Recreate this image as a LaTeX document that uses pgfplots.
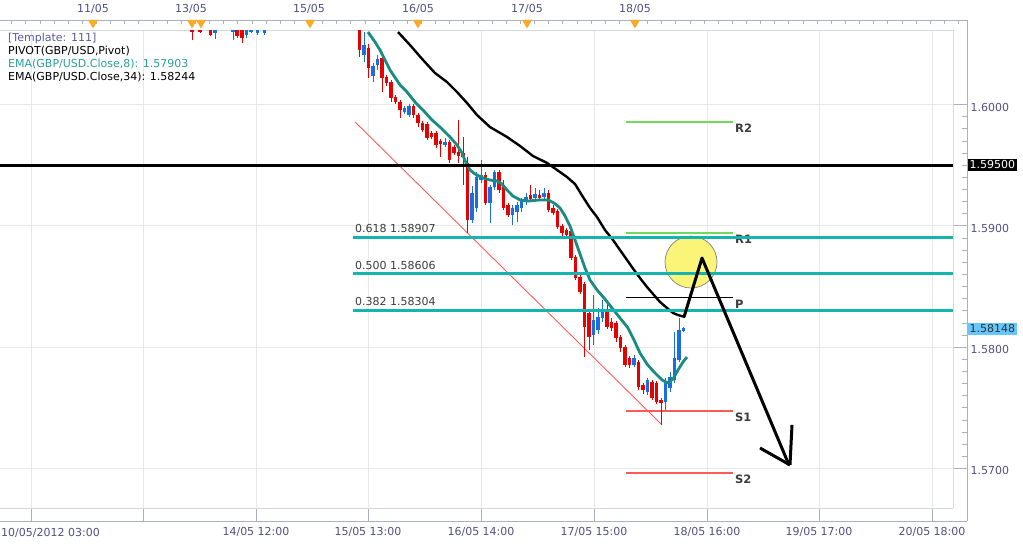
\documentclass[border=0pt]{standalone}
\usepackage{pgfplots}
\pgfplotsset{compat=1.18}
\usepackage{pgfplotstable}
\usepackage{fontspec}
\setmainfont{DejaVu Sans}
\definecolor{cred}{RGB}{230,0,0}
\definecolor{cblue}{RGB}{25,110,225}
\definecolor{ema8}{RGB}{25,140,130}
\definecolor{fib}{RGB}{20,180,175}
\definecolor{framec}{RGB}{170,178,192}
\definecolor{innerc}{RGB}{212,216,224}
\definecolor{gridc}{RGB}{232,232,232}
\definecolor{labc}{RGB}{80,80,130}
\definecolor{tmplc}{RGB}{90,90,160}
\definecolor{pivgreen}{RGB}{110,220,90}
\definecolor{pivred}{RGB}{255,90,90}
\definecolor{trendred}{RGB}{255,90,90}
\definecolor{orangec}{RGB}{248,170,40}
\definecolor{circfill}{RGB}{250,245,120}
\definecolor{curblue}{RGB}{100,200,255}
\definecolor{ema8txt}{RGB}{40,160,155}
\definecolor{txtgray}{RGB}{60,60,60}
\newcommand\f{\fontsize{11}{13}\selectfont}
\newcommand\fb{\fontsize{11.5}{13}\selectfont\bfseries}

\pgfplotstableread{
x o h l c
192 1.60615 1.60615 1.60533 1.60598
200 1.60615 1.60615 1.60590 1.60598
210.5 1.60615 1.60615 1.60566 1.60574
237 1.60615 1.60615 1.60549 1.60566
242 1.60615 1.60615 1.60508 1.60549
359.5 1.60615 1.60615 1.60392 1.60450
368.5 1.60467 1.60500 1.60219 1.60302
382 1.60384 1.60401 1.60104 1.60219
386.5 1.60228 1.60244 1.60153 1.60178
391 1.60186 1.60203 1.60021 1.60054
395.5 1.60063 1.60079 1.60005 1.60021
400 1.60021 1.60038 1.59890 1.59955
413.5 1.59988 1.60005 1.59890 1.59914
418 1.59914 1.59931 1.59815 1.59848
422.5 1.59848 1.59865 1.59774 1.59791
427 1.59840 1.59857 1.59708 1.59725
431.5 1.59766 1.59782 1.59716 1.59733
436 1.59766 1.59782 1.59642 1.59667
440.5 1.59700 1.59716 1.59568 1.59675
449.5 1.59692 1.59708 1.59519 1.59543
454 1.59650 1.59667 1.59584 1.59601
458.5 1.59609 1.59873 1.59519 1.59576
463 1.59601 1.59733 1.59337 1.59568
467.5 1.59519 1.59568 1.58941 1.59049
485.5 1.59420 1.59444 1.59172 1.59189
499 1.59444 1.59461 1.59271 1.59296
503.5 1.59337 1.59378 1.59131 1.59148
508 1.59172 1.59189 1.59073 1.59090
530.5 1.59255 1.59337 1.59205 1.59222
539.5 1.59255 1.59296 1.59214 1.59230
548.5 1.59271 1.59296 1.59115 1.59131
553 1.59148 1.59172 1.59090 1.59106
557.5 1.59123 1.59139 1.58974 1.58991
562 1.58999 1.59016 1.58900 1.58941
566.5 1.58966 1.58983 1.58900 1.58925
571 1.58958 1.58974 1.58719 1.58735
575.5 1.58744 1.58760 1.58554 1.58570
580 1.58579 1.58595 1.58439 1.58455
584.5 1.58521 1.58538 1.57919 1.58167
589 1.58282 1.58307 1.57977 1.58084
607 1.58290 1.58389 1.58150 1.58167
611.5 1.58208 1.58241 1.58134 1.58158
616 1.58199 1.58216 1.58043 1.58076
620.5 1.58084 1.58101 1.57960 1.57993
625 1.58002 1.58018 1.57837 1.57853
629.5 1.57911 1.57927 1.57829 1.57853
638.5 1.57878 1.57894 1.57647 1.57672
643 1.57688 1.57705 1.57614 1.57647
652 1.57713 1.57730 1.57565 1.57581
656.5 1.57705 1.57721 1.57532 1.57548
661 1.57565 1.57581 1.57359 1.57540
}\redc

\pgfplotstableread{
x o h l c
215 1.60590 1.60615 1.60541 1.60615
233 1.60598 1.60615 1.60533 1.60615
246.5 1.60574 1.60615 1.60549 1.60615
251 1.60598 1.60615 1.60590 1.60615
257.5 1.60590 1.60615 1.60574 1.60615
264.5 1.60590 1.60615 1.60574 1.60615
364 1.60409 1.60598 1.60351 1.60491
373 1.60236 1.60343 1.60186 1.60318
377.5 1.60326 1.60409 1.60285 1.60376
404.5 1.59939 1.59988 1.59922 1.59972
409 1.59914 1.60005 1.59898 1.59988
445 1.59667 1.59725 1.59650 1.59692
472 1.59049 1.59329 1.59024 1.59271
476.5 1.59148 1.59444 1.59115 1.59403
481 1.59378 1.59543 1.59354 1.59420
490 1.59189 1.59337 1.59024 1.59321
494.5 1.59321 1.59461 1.59296 1.59444
512.5 1.59090 1.59172 1.59007 1.59148
517 1.59115 1.59197 1.59032 1.59172
521.5 1.59148 1.59230 1.59115 1.59214
526 1.59197 1.59271 1.59172 1.59238
535 1.59230 1.59312 1.59214 1.59263
544 1.59238 1.59312 1.59222 1.59271
593.5 1.58101 1.58430 1.58018 1.58224
598 1.58142 1.58323 1.58109 1.58249
602.5 1.58241 1.58389 1.58208 1.58290
634 1.57853 1.57936 1.57837 1.57911
647.5 1.57631 1.57746 1.57606 1.57730
665.5 1.57548 1.57746 1.57482 1.57705
670 1.57664 1.57796 1.57631 1.57754
674.5 1.57730 1.58125 1.57705 1.57911
679 1.57894 1.58241 1.57878 1.58142
683.5 1.58134 1.58167 1.58125 1.58158
}\bluec

\begin{document}
\begin{tikzpicture}[x=1pt,y=1pt]
\useasboundingbox (0,0) rectangle (1023,545);
% outer frame with ticks and labels
\begin{axis}[at={(0pt,24pt)}, anchor=south west, scale only axis,
  width=967pt, height=501pt,
  xmin=0, xmax=967, ymin=1.565672, ymax=1.606974,
  axis x line*=box, axis y line*=right,
  axis line style={-, draw=framec, line width=0.8pt},
  tick align=inside,
  xtick={31,143,256,368,481,594,707,819,932},
  xticklabels={{},{},{14/05 12:00},{15/05 13:00},{16/05 14:00},{17/05 15:00},{18/05 16:00},{19/05 17:00},{20/05 18:00}},
  minor x tick num=7,
  xtick pos=bottom,
  ytick={1.57,1.58,1.59,1.60},
  yticklabels={1.5700,1.5800,1.5900,1.6000},
  minor y tick num=9,
  ytick pos=right, yticklabel pos=right,
  major tick length=13.5pt, minor tick length=5pt,
  tick style={draw=framec, line width=0.8pt},
  xticklabel style={font=\f, text=labc, yshift=-3pt},
  yticklabel style={font=\f, text=labc, yshift=-2.5pt},
]
\end{axis}
% inner plot area
\begin{axis}[at={(0pt,37pt)}, anchor=south west, scale only axis,
  width=953pt, height=478pt,
  xmin=0, xmax=953, ymin=1.566743, ymax=1.606150,
  clip=false,
  axis x line*=box, axis y line*=right,
  axis line style={-, draw=innerc, line width=0.8pt},
  xtick={31,143,256,368,481,594,707,819,932},
  ytick={1.57,1.58,1.59,1.60},
  xticklabels={}, yticklabels={},
  major tick length=0pt,
  tick style={draw=none},
  grid=major, grid style={draw=gridc, line width=0.9pt},
]
% pivot lines
\addplot[pivgreen, line width=1.2pt, forget plot] coordinates {(626,1.59857) (733,1.59857)};
\addplot[pivgreen, line width=1.2pt, forget plot] coordinates {(626,1.58941) (733,1.58941)};
\addplot[black, line width=1pt, forget plot] coordinates {(626,1.58406) (733,1.58406)};
\addplot[pivred, line width=1.2pt, forget plot] coordinates {(626,1.57474) (733,1.57474)};
\addplot[pivred, line width=1.2pt, forget plot] coordinates {(626,1.56963) (733,1.56963)};
\node[anchor=north west, inner sep=0pt, font=\fb, text=txtgray] at (axis cs:735,1.59857) [yshift=-1.5pt] {R2};
\node[anchor=north west, inner sep=0pt, font=\fb, text=txtgray] at (axis cs:735,1.58941) [yshift=-1.5pt] {R1};
\node[anchor=north west, inner sep=0pt, font=\fb, text=txtgray] at (axis cs:735,1.58406) [yshift=-1.5pt] {P};
\node[anchor=north west, inner sep=0pt, font=\fb, text=txtgray] at (axis cs:735,1.57474) [yshift=-1.5pt] {S1};
\node[anchor=north west, inner sep=0pt, font=\fb, text=txtgray] at (axis cs:735,1.56963) [yshift=-1.5pt] {S2};
% trend line
\addplot[trendred, line width=0.9pt, forget plot] coordinates {(355,1.59857) (662,1.57359)};
% candles: wicks
\addplot[draw=none, mark=none, forget plot, error bars/.cd, y dir=plus, y explicit, error mark=none,
  error bar style={draw=cred, line width=1pt}]
  table[x=x, y=l, y error plus expr=\thisrow{h}-\thisrow{l}] {\redc};
\addplot[draw=none, mark=none, forget plot, error bars/.cd, y dir=plus, y explicit, error mark=none,
  error bar style={draw=cblue, line width=1pt}]
  table[x=x, y=l, y error plus expr=\thisrow{h}-\thisrow{l}] {\bluec};
% candles: bodies
\addplot[draw=none, mark=none, forget plot, error bars/.cd, y dir=plus, y explicit, error mark=none,
  error bar style={draw=cred, line width=3.8pt}]
  table[x=x, y=c, y error plus expr=\thisrow{o}-\thisrow{c}] {\redc};
\addplot[draw=none, mark=none, forget plot, error bars/.cd, y dir=plus, y explicit, error mark=none,
  error bar style={draw=cblue, line width=3.8pt}]
  table[x=x, y=o, y error plus expr=\thisrow{c}-\thisrow{o}] {\bluec};
% EMA 8
\addplot[ema8, line width=2.8pt, line join=round, forget plot] coordinates {
(368,1.60598) (375,1.60516) (380,1.60450) (390,1.60285) (400,1.60162) (407,1.60104) (415,1.60021) (423,1.59955) (432,1.59873) (440,1.59815) (450,1.59733) (457,1.59667) (462,1.59601) (466,1.59519) (470,1.59461) (475,1.59428) (483,1.59395) (490,1.59378) (497,1.59370) (502,1.59345) (507,1.59296) (513,1.59246) (520,1.59214) (528,1.59205) (540,1.59214) (548,1.59214) (554,1.59189) (560,1.59148) (565,1.59082) (570,1.58999) (575,1.58884) (580,1.58768) (585,1.58653) (590,1.58554) (597,1.58472) (604,1.58406) (612,1.58323) (620,1.58241) (628,1.58158) (634,1.58059) (640,1.57952) (647,1.57861) (655,1.57787) (662,1.57730) (668,1.57705) (673,1.57738) (678,1.57812) (683,1.57878) (687,1.57919)};
% EMA 34
\addplot[black, line width=2.4pt, line join=round, forget plot] coordinates {
(398,1.60598) (410,1.60491) (423,1.60368) (435,1.60260) (447,1.60186) (457,1.60104) (467,1.60013) (477,1.59914) (490,1.59815) (507,1.59733) (520,1.59659) (533,1.59576) (547,1.59519) (557,1.59461) (567,1.59403) (575,1.59345) (583,1.59238) (590,1.59148) (597,1.59073) (605,1.58966) (613,1.58884) (620,1.58801) (627,1.58719) (634,1.58637) (640,1.58570) (647,1.58496) (653,1.58439) (660,1.58373) (667,1.58323) (673,1.58282) (678,1.58265) (685,1.58249)};
% yellow circle (annotation)
\draw[fill=circfill, draw=gray, line width=0.7pt] (axis cs:691,1.58702) circle[radius=26pt];
% fibonacci lines
\addplot[fib, line width=3pt, forget plot] coordinates {(353,1.58907) (953,1.58907)};
\addplot[fib, line width=3pt, forget plot] coordinates {(353,1.58606) (953,1.58606)};
\addplot[fib, line width=3pt, forget plot] coordinates {(353,1.58304) (953,1.58304)};
\node[anchor=south west, inner sep=0pt, font=\f, text=txtgray] at (axis cs:355,1.58907) [yshift=4pt] {0.618 1.58907};
\node[anchor=south west, inner sep=0pt, font=\f, text=txtgray] at (axis cs:355,1.58606) [yshift=4pt] {0.500 1.58606};
\node[anchor=south west, inner sep=0pt, font=\f, text=txtgray] at (axis cs:355,1.58304) [yshift=4pt] {0.382 1.58304};
% 1.595 level
\addplot[black, line width=3pt, forget plot] coordinates {(0,1.595) (953,1.595)};
% hand-drawn arrow
\addplot[black, line width=3pt, line join=round, forget plot] coordinates {(684,1.58249) (702,1.58735) (789,1.57029)};
\addplot[black, line width=3pt, forget plot] coordinates {(760,1.57169) (790,1.57029)};
\addplot[black, line width=3pt, forget plot] coordinates {(792,1.57359) (790,1.57029)};
\end{axis}
% top strip ticks
\foreach \i in {0,...,67} {\draw[framec, line width=0.8pt] ({11.7+14.13*\i},525) -- ++(0,-4);}
% top date markers
\foreach \xx in {93,192,201,310,418,527,635} {\fill[orangec] (\xx-5,525) -- (\xx+5,525) -- (\xx,516.5) -- cycle;}
\node[font=\f, text=labc] at (93,536) {11/05};
\node[font=\f, text=labc] at (191,536) {13/05};
\node[font=\f, text=labc] at (309,536) {15/05};
\node[font=\f, text=labc] at (418,536) {16/05};
\node[font=\f, text=labc] at (527,536) {17/05};
\node[font=\f, text=labc] at (635,536) {18/05};
% first bottom label
\node[anchor=west, inner sep=0pt, font=\f, text=labc] at (1,12) {10/05/2012 03:00};
% legend
\node[anchor=west, inner sep=0pt, font=\f, text=tmplc] at (8,506.5) {[Template: 111]};
\node[anchor=west, inner sep=0pt, font=\f, text=black] at (8,494) {PIVOT(GBP/USD,Pivot)};
\node[anchor=west, inner sep=0pt, font=\f, text=ema8txt] at (8,481) {EMA(GBP/USD.Close,8): 1.57903};
\node[anchor=west, inner sep=0pt, font=\f, text=black] at (8,468) {EMA(GBP/USD.Close,34): 1.58244};
% price boxes
\node[anchor=west, fill=black, text=white, font=\f, inner xsep=1.5pt, inner ysep=2pt] at (968,380) {1.59500};
\node[anchor=west, fill=curblue, text=black!80, font=\f, inner xsep=1.5pt, inner ysep=2pt] at (968,216) {1.58148};
\end{tikzpicture}
\end{document}
